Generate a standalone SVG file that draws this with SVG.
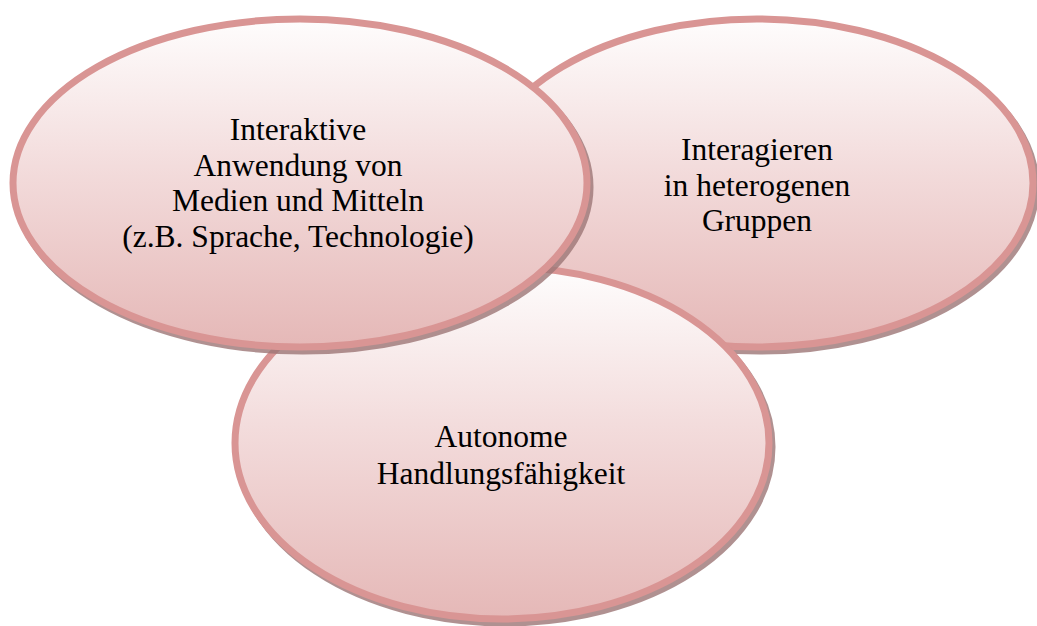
<svg xmlns="http://www.w3.org/2000/svg" width="1037" height="626" viewBox="0 0 1037 626">
<defs>
<linearGradient id="g" x1="0" y1="0" x2="0" y2="1">
<stop offset="0" stop-color="#fefdfd"/>
<stop offset="0.45" stop-color="#f3dcdc"/>
<stop offset="1" stop-color="#e5b8b7"/>
</linearGradient>
</defs>
<style>
.sh{fill:none;stroke:#9c7676;stroke-opacity:0.8;stroke-width:7}
.el{fill:url(#g);stroke:#d99594;stroke-width:7}
.t{font-family:"Liberation Serif","Times New Roman",serif;font-size:31.5px;fill:#000;text-anchor:middle}
</style>
<rect width="1037" height="626" fill="#fff"/>
<g id="node-gruppen">
<ellipse class="sh" cx="760" cy="187" rx="276" ry="164"/>
<ellipse class="el" cx="757" cy="183" rx="276" ry="164"/>
<text class="t" x="757" y="160">Interagieren</text>
<text class="t" x="757" y="196">in heterogenen</text>
<text class="t" x="757" y="231">Gruppen</text>
</g>
<g id="node-autonom">
<ellipse class="sh" cx="505" cy="447" rx="267" ry="176"/>
<ellipse class="el" cx="502" cy="443" rx="267" ry="176"/>
<text class="t" x="501" y="447">Autonome</text>
<text class="t" x="501" y="484">Handlungsfähigkeit</text>
</g>
<g id="node-medien">
<ellipse class="sh" cx="303" cy="187" rx="287" ry="164"/>
<ellipse class="el" cx="300" cy="183" rx="287" ry="164"/>
<text class="t" x="298" y="140">Interaktive</text>
<text class="t" x="298" y="176">Anwendung von</text>
<text class="t" x="298" y="211">Medien und Mitteln</text>
<text class="t" x="298" y="247">(z.B. Sprache, Technologie)</text>
</g>
<g id="connectors"></g>
</svg>
